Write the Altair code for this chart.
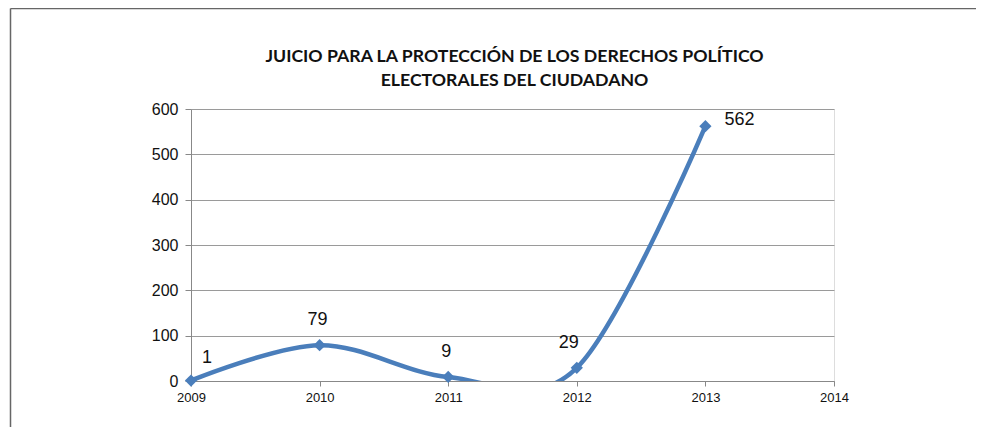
import altair as alt
import pandas as pd

years = [2009, 2010, 2011, 2012, 2013]
counts = [1, 79, 9, 29, 562]
x_ticks = [2009, 2010, 2011, 2012, 2013, 2014]
y_ticks = [0, 100, 200, 300, 400, 500, 600]
title_lines = ["JUICIO PARA LA PROTECCIÓN DE LOS DERECHOS POLÍTICO",
               "ELECTORALES DEL CIUDADANO"]

df = pd.DataFrame({"year": years, "count": counts})

BLUE = "#4A7EBB"
W, H = 643, 272

x_enc = alt.X("year:Q",
              scale=alt.Scale(domain=[2009, 2014], nice=False, zero=False),
              axis=alt.Axis(values=x_ticks, format="d", title=None, grid=False,
                            labelFont="Liberation Sans", labelFontSize=13,
                            labelColor="#111", labelPadding=5, tickSize=5,
                            tickColor="#888", domainColor="#888",
                            labelFlush=False))
y_enc = alt.Y("count:Q",
              scale=alt.Scale(domain=[0, 600], nice=False),
              axis=alt.Axis(values=y_ticks, title=None, grid=True,
                            gridColor="#9a9a9a", gridWidth=1,
                            labelFont="Liberation Sans", labelFontSize=16,
                            labelColor="#111", labelPadding=7, tickSize=6,
                            tickColor="#888", domainColor="#888"))

base = alt.Chart(df).encode(x=x_enc, y=y_enc)

line = base.mark_line(interpolate="cardinal", tension=0, clip=True,
                      strokeWidth=4.5, color=BLUE)
pts = base.mark_point(shape="diamond", filled=True, size=150, color=BLUE,
                      opacity=1)

txt_kw = dict(font="Liberation Sans", fontSize=18, color="#111",
              align="center", baseline="middle")
lab_mid = base.transform_filter(
    alt.FieldOneOfPredicate(field="year", oneOf=[2010, 2011])
).mark_text(dx=-2, dy=-25, **txt_kw).encode(text="count:Q")
lab_first = base.transform_filter(alt.datum.year == 2009).mark_text(
    dx=16, dy=-23, **txt_kw).encode(text="count:Q")
lab_29 = base.transform_filter(alt.datum.year == 2012).mark_text(
    dx=-8, dy=-25, **txt_kw).encode(text="count:Q")
lab_562 = base.transform_filter(alt.datum.year == 2013).mark_text(
    dx=34, dy=-6, **txt_kw).encode(text="count:Q")

frame_df = pd.DataFrame({"k": [0]})
frame_top = alt.Chart(frame_df).mark_rule(color="#666", strokeWidth=1.5).encode(
    x=alt.value(-180.5), x2=alt.value(790), y=alt.value(-100.5))
frame_left = alt.Chart(frame_df).mark_rule(color="#666", strokeWidth=1.5).encode(
    x=alt.value(-180.5), y=alt.value(-100.5), y2=alt.value(330))

chart = alt.layer(
    frame_top, frame_left, line, pts, lab_mid, lab_first, lab_29, lab_562
).properties(
    width=W, height=H,
    title=alt.Title(title_lines, font="Lato", fontSize=17.7, fontWeight="bold",
                    color="#111", anchor="middle", offset=-82, lineHeight=24,
                    dx=2),
    padding={"left": 183, "top": 101, "right": 142, "bottom": 46},
    autosize=alt.AutoSizeParams(type="none"),
).configure_view(stroke=None).configure(background="white")

chart.save("out.html", embed_options={"renderer": "svg", "actions": False})
